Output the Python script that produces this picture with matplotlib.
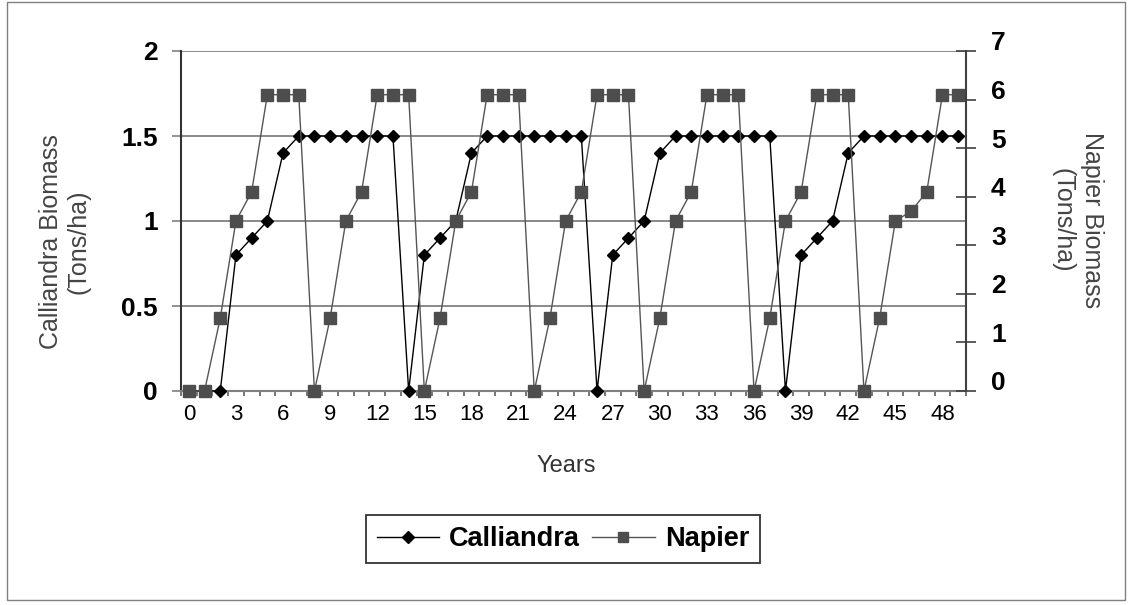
import numpy as np
import matplotlib
matplotlib.use('Agg')
import matplotlib.pyplot as plt
import matplotlib.transforms as mtransforms
from matplotlib.patches import Rectangle

# data (one point per year)
years = np.arange(50)
calliandra = [0, 0, 0, 0.8, 0.9, 1.0, 1.4, 1.5, 1.5, 1.5, 1.5, 1.5, 1.5, 1.5,
              0, 0.8, 0.9, 1.0, 1.4, 1.5, 1.5, 1.5, 1.5, 1.5, 1.5, 1.5,
              0, 0.8, 0.9, 1.0, 1.4, 1.5, 1.5, 1.5, 1.5, 1.5, 1.5, 1.5,
              0, 0.8, 0.9, 1.0, 1.4, 1.5, 1.5, 1.5, 1.5, 1.5, 1.5, 1.5]
napier = [0, 0, 1.5, 3.5, 4.1, 6.1, 6.1, 6.1,
          0, 1.5, 3.5, 4.1, 6.1, 6.1, 6.1,
          0, 1.5, 3.5, 4.1, 6.1, 6.1, 6.1,
          0, 1.5, 3.5, 4.1, 6.1, 6.1, 6.1,
          0, 1.5, 3.5, 4.1, 6.1, 6.1, 6.1,
          0, 1.5, 3.5, 4.1, 6.1, 6.1, 6.1,
          0, 1.5, 3.5, 3.7, 4.1, 6.1, 6.1]
x_labels = np.arange(0, 49, 3)
left_ticks = [0, 0.5, 1, 1.5, 2]
right_ticks = list(range(8))

sans = ['Liberation Sans', 'DejaVu Sans']
narrow = ['Liberation Sans Narrow', 'Liberation Sans', 'DejaVu Sans']
plt.rcParams['font.family'] = sans

W, H = 1133, 605
fig = plt.figure(figsize=(W / 100, H / 100), dpi=100)
ax = fig.add_axes([181 / W, 1 - 391 / H, 785 / W, 340 / H])
ax2 = ax.twinx()

# left axis (Calliandra)
ax.plot(years, calliandra, color='black', lw=1, marker='D', ms=6.5,
        mfc='black', mec='black', clip_on=False, label='Calliandra', zorder=3)
ax.set_xlim(-0.5, 49.5)
ax.set_ylim(0, 2)
ax.set_yticks(left_ticks)
ax.set_yticklabels(['0', '0.5', '1', '1.5', '2'], fontsize=19, fontweight='bold')
ax.yaxis.grid(True, color='#808080', lw=1.3)
ax.set_axisbelow(True)
ax.tick_params(axis='y', direction='out', length=6.5, width=1.2, color='#808080', pad=10)
ax.set_xticks(x_labels)
ax.set_xticklabels([str(v) for v in x_labels], fontsize=16, family=narrow)
ax.set_xticks(np.arange(-0.5, 50, 1), minor=True)
ax.tick_params(axis='x', which='major', length=0, pad=9)
ax.tick_params(axis='x', which='minor', direction='out', length=3.6, width=1.2, color='#606060')
ax.spines['top'].set_visible(False)
ax.spines['right'].set_visible(False)
ax.spines['bottom'].set_color('#808080')
ax.spines['bottom'].set_linewidth(1.5)
ax.spines['left'].set_color('#333333')
ax.spines['left'].set_linewidth(1.5)

# right axis (Napier)
ax2.plot(years, napier, color='#555555', lw=1, marker='s', ms=8.4,
         mfc='#4d4d4d', mec='#4d4d4d', clip_on=False, label='Napier')
ax2.set_ylim(0, 7)
ax2.set_yticks(right_ticks)
ax2.set_yticklabels([str(v) for v in right_ticks], fontsize=19, fontweight='bold')
ax2.tick_params(axis='y', direction='inout', length=14, width=1.2, color='#404040', pad=11)
for s in ['top', 'left', 'bottom']:
    ax2.spines[s].set_visible(False)
ax2.spines['right'].set_color('#404040')
ax2.spines['right'].set_linewidth(1.5)
# the right labels sit a little above their ticks in the original
shift = mtransforms.ScaledTranslation(0, 0.1, fig.dpi_scale_trans)
for lbl in ax2.get_yticklabels():
    lbl.set_transform(lbl.get_transform() + shift)

# axis titles
fig.text(65 / W, 1 - 242 / H, 'Calliandra Biomass\n(Tons/ha)', rotation=90,
         ha='center', va='center', fontsize=18, color='#444444', linespacing=1.2,
         multialignment='center')
fig.text(1077 / W, 1 - 220 / H, 'Napier Biomass\n(Tons/ha)', rotation=270,
         ha='center', va='center', fontsize=18, color='#444444', linespacing=1.3,
         multialignment='center')
fig.text(566 / W, 1 - 466 / H, 'Years', ha='center', va='center', fontsize=17,
         family=narrow, color='#333333')

# legend
h1, l1 = ax.get_legend_handles_labels()
h2, l2 = ax2.get_legend_handles_labels()
leg = fig.legend(h1 + h2, l1 + l2, loc='center', bbox_to_anchor=(563 / W, 1 - 539 / H),
                 ncol=2, fancybox=False, framealpha=1, edgecolor='#333333',
                 prop={'size': 19.5, 'weight': 'bold'}, handlelength=2.3,
                 handletextpad=0.37, columnspacing=0.45, borderpad=0.4, markerscale=0.9)
leg.get_frame().set_linewidth(1.3)

# outer frame
fig.patches.append(Rectangle((7 / W, 5 / H), (1125 - 7) / W, (H - 7) / H,
                             transform=fig.transFigure, fill=False,
                             edgecolor='#808080', lw=1))

fig.savefig('out.png', dpi=100)
